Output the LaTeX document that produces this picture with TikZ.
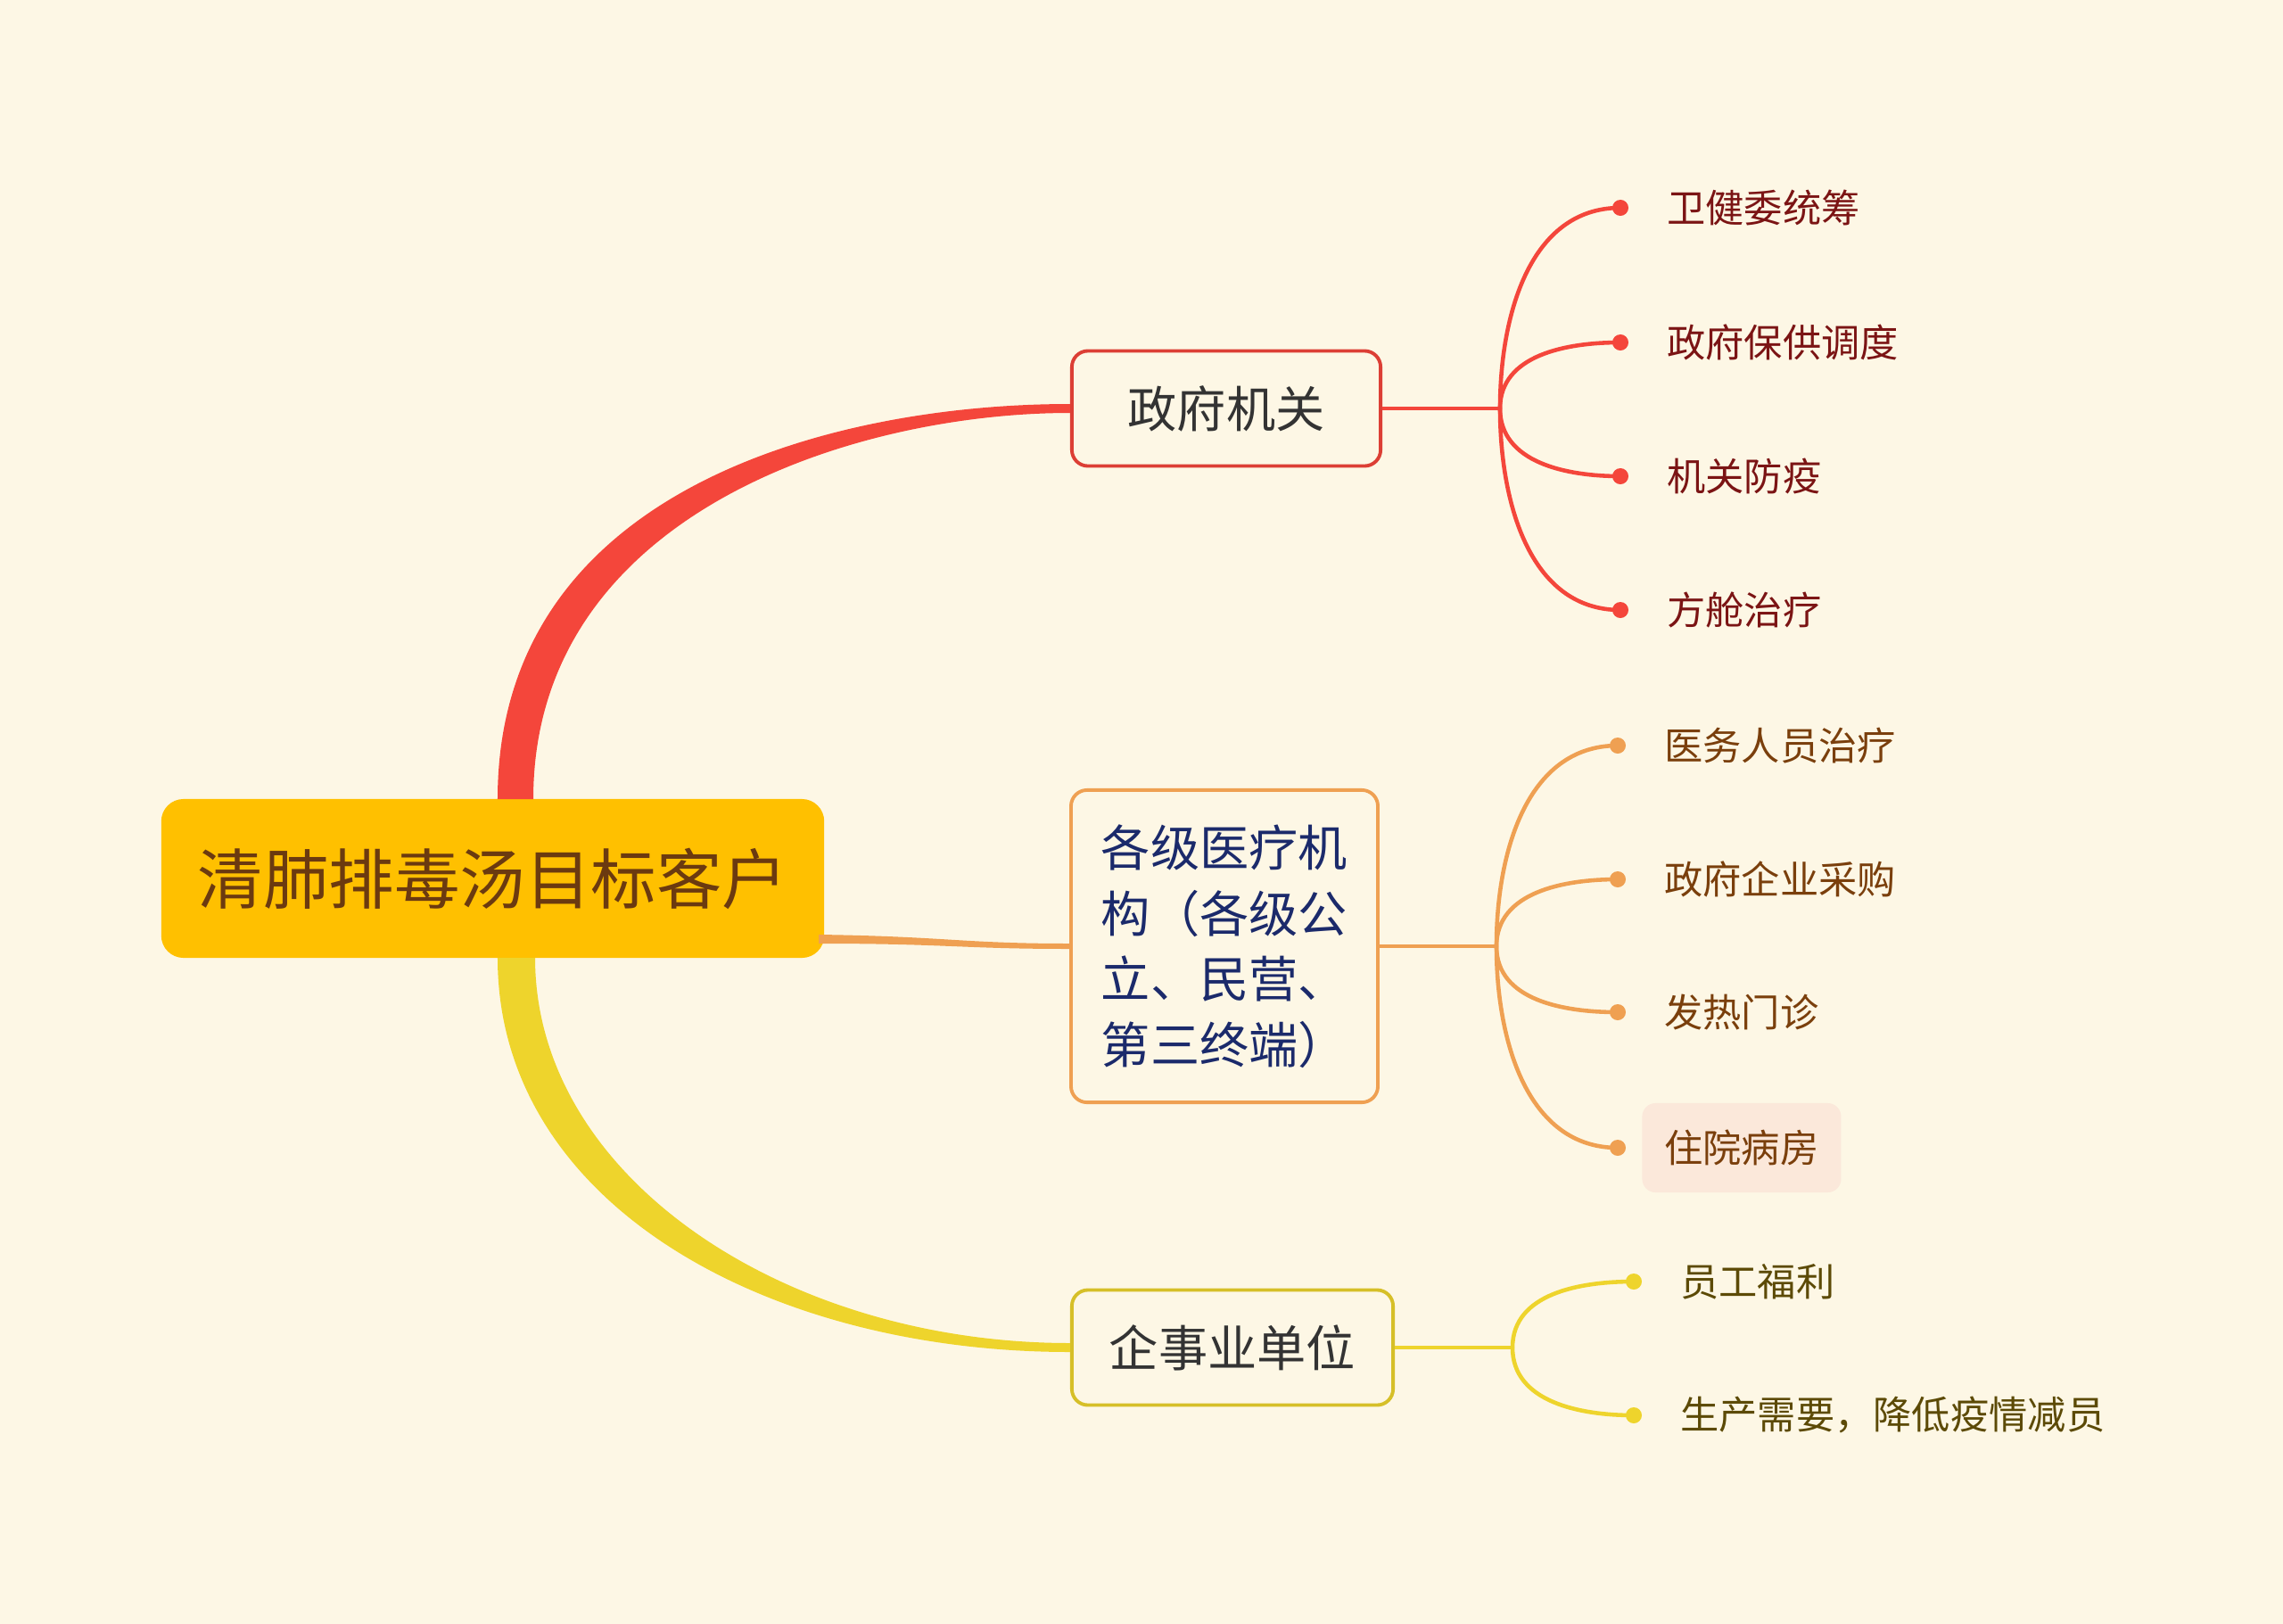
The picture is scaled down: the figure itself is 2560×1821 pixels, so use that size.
\documentclass[tikz,border=0pt]{standalone}
\usepackage{fontspec}
\newfontfamily\cjk{Noto Sans CJK SC}
\usepackage{tikz}
\usetikzlibrary{positioning}

\definecolor{bgcream}{HTML}{FDF7E5}
\definecolor{rootfill}{HTML}{FFC000}
\definecolor{roottext}{HTML}{6B3A10}
\definecolor{redbr}{HTML}{F4463B}
\definecolor{redleaf}{HTML}{7B1414}
\definecolor{orangebr}{HTML}{EFA052}
\definecolor{orangeleaf}{HTML}{7A3F0C}
\definecolor{yellowbr}{HTML}{EED42C}
\definecolor{yellowleaf}{HTML}{5C4A06}
\definecolor{topictext}{HTML}{333333}
\definecolor{medtext}{HTML}{1B2A6B}
\definecolor{hilite}{HTML}{FBE8DA}

\begin{document}
\begin{tikzpicture}[x=0.01cm, y=-0.01cm, font=\cjk,
    rootbox/.style={fill=rootfill, rounded corners=0.25cm, minimum width=7.43cm, minimum height=1.78cm, text=roottext, font=\cjk\fontsize{20.9}{25}\selectfont},
    topic/.style={draw, line width=1.1pt, fill=bgcream, rounded corners=0.18cm, minimum height=1.29cm, text=topictext, font=\cjk\fontsize{15.7}{20.9}\selectfont},
    leaf/.style={inner xsep=0.25cm, minimum height=1cm, rounded corners=0.15cm, font=\cjk\fontsize{12.3}{15}\selectfont},
    dot/.style={circle, fill, inner sep=0pt, minimum size=0.18cm},
    twig/.style={line width=1.3pt}]

    \fill[bgcream] (0,0) rectangle (2560,1821);
    \useasboundingbox (0,0) rectangle (2560,1821);

    \node [rootbox] (root) at (552.5,985) {清肺排毒汤目标客户};
    \node [topic, draw=redbr!90!black, minimum width=3.46cm] (gov) at (1375,458) {政府机关};
    \node [topic, draw=orangebr, text=medtext, align=left, inner xsep=0.34cm, minimum width=3.43cm, minimum height=3.5cm] (med) at (1373,1061) {各级医疗机\\构（各级公\\立、民营、\\第三终端）};
    \node [topic, draw=yellowbr!90!black, minimum width=3.6cm] (ent) at (1382,1511) {企事业单位};

    \coordinate (redstart) at (578,896);
    \coordinate (orangestart) at (918,1053);
    \coordinate (yellowstart) at (579,1074);

    \fill [redbr] ([xshift=-0.2cm]redstart) .. controls (558,545) and (940,453) .. ([yshift=0.05cm]gov.west)
        -- ([yshift=-0.05cm]gov.west) .. controls (960,463) and (598,575) .. ([xshift=0.2cm]redstart) -- cycle;
    \fill [orangebr] ([yshift=0.05cm]orangestart) .. controls (1060,1050) and (1080,1058) .. ([yshift=0.03cm]med.west)
        -- ([yshift=-0.03cm]med.west) .. controls (1080,1064) and (1060,1058) .. ([yshift=-0.05cm]orangestart) -- cycle;
    \fill [yellowbr] ([xshift=-0.21cm]yellowstart) .. controls (558,1350) and (860,1516) .. ([yshift=-0.05cm]ent.west)
        -- ([yshift=0.05cm]ent.west) .. controls (880,1506) and (600,1320) .. ([xshift=0.21cm]yellowstart) -- cycle;

    \coordinate (govfork) at (1682,458);
    \coordinate (medfork) at (1678,1061);
    \coordinate (entfork) at (1696,1511);

    \node [dot, redbr] (g1) at (1817,233) {};
    \node [dot, redbr] (g2) at (1817,384) {};
    \node [dot, redbr] (g3) at (1817,534) {};
    \node [dot, redbr] (g4) at (1817,684) {};
    \node [dot, orangebr] (m1) at (1814,836) {};
    \node [dot, orangebr] (m2) at (1814,986) {};
    \node [dot, orangebr] (m3) at (1814,1135) {};
    \node [dot, orangebr] (m4) at (1814,1287) {};
    \node [dot, yellowbr] (e1) at (1832,1437) {};
    \node [dot, yellowbr] (e2) at (1832,1587) {};

    \node [leaf, text=redleaf, right=0.17cm of g1] (g1t) {卫健委统筹};
    \node [leaf, text=redleaf, right=0.17cm of g2] (g2t) {政府保供调度};
    \node [leaf, text=redleaf, right=0.17cm of g3] (g3t) {机关防疫};
    \node [leaf, text=redleaf, right=0.17cm of g4] (g4t) {方舱治疗};
    \node [leaf, text=orangeleaf, right=0.17cm of m1] (m1t) {医务人员治疗};
    \node [leaf, text=orangeleaf, right=0.17cm of m2] (m2t) {政府企业采购};
    \node [leaf, text=orangeleaf, right=0.17cm of m3] (m3t) {发热门诊};
    \node [leaf, text=orangeleaf, fill=hilite, right=0.17cm of m4] (m4t) {住院病房};
    \node [leaf, text=yellowleaf, right=0.17cm of e1] (e1t) {员工福利};
    \node [leaf, text=yellowleaf, right=0.17cm of e2] (e2t) {生产需要，降低疫情减员};

    \draw [twig, redbr] (gov.east) -- (govfork);
    \draw [twig, redbr] (govfork) to[out=90, in=180] (g1.center);
    \draw [twig, redbr] (govfork) to[out=90, in=180] (g2.center);
    \draw [twig, redbr] (govfork) to[out=-90, in=180] (g3.center);
    \draw [twig, redbr] (govfork) to[out=-90, in=180] (g4.center);
    \draw [twig, orangebr] (med.east) -- (medfork);
    \draw [twig, orangebr] (medfork) to[out=90, in=180] (m1.center);
    \draw [twig, orangebr] (medfork) to[out=90, in=180] (m2.center);
    \draw [twig, orangebr] (medfork) to[out=-90, in=180] (m3.center);
    \draw [twig, orangebr] (medfork) to[out=-90, in=180] (m4.center);
    \draw [twig, yellowbr] (ent.east) -- (entfork);
    \draw [twig, yellowbr] (entfork) to[out=90, in=180] (e1.center);
    \draw [twig, yellowbr] (entfork) to[out=-90, in=180] (e2.center);
\end{tikzpicture}
\end{document}
